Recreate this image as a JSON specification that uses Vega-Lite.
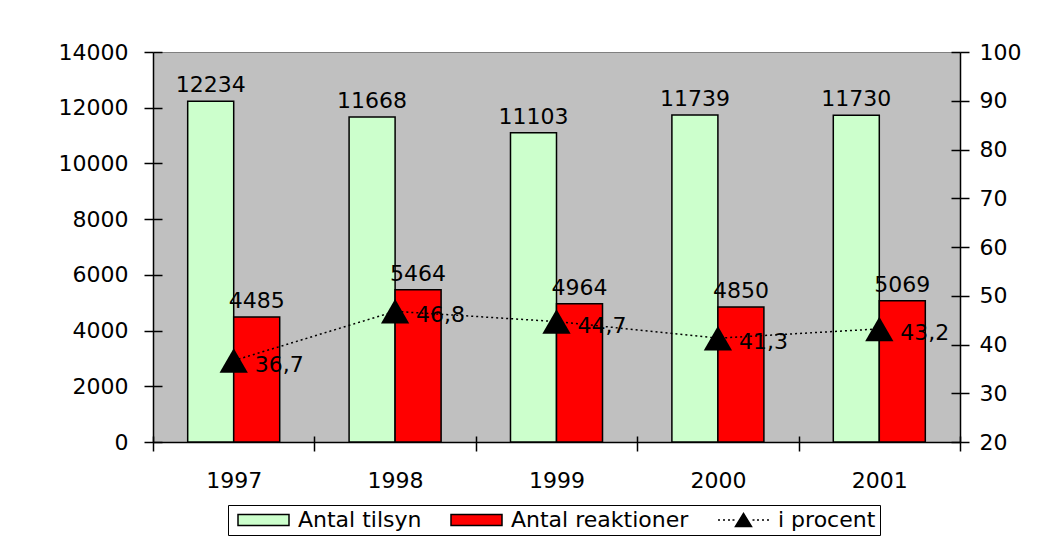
{
  "$schema": "https://vega.github.io/schema/vega-lite/v6.json",
  "width": 807,
  "height": 390,
  "autosize": "none",
  "padding": {"left": 153, "top": 52, "right": 97, "bottom": 106},
  "background": "white",
  "config": {
    "font": "DejaVu Sans",
    "view": {"fill": "#C0C0C0", "stroke": "#808080", "strokeWidth": 1},
    "axis": {"grid": false, "title": null, "labelFont": "DejaVu Sans", "labelFontSize": 22, "labelColor": "black", "tickColor": "black", "domainColor": "black", "tickWidth": 1.5, "domainWidth": 1.5, "tickSize": 9, "labelFlush": false, "labelOverlap": false}
  },
  "datasets": {
    "bars": [
      {"year": "1997", "series": "Antal tilsyn", "value": 12234},
      {"year": "1997", "series": "Antal reaktioner", "value": 4485},
      {"year": "1998", "series": "Antal tilsyn", "value": 11668},
      {"year": "1998", "series": "Antal reaktioner", "value": 5464},
      {"year": "1999", "series": "Antal tilsyn", "value": 11103},
      {"year": "1999", "series": "Antal reaktioner", "value": 4964},
      {"year": "2000", "series": "Antal tilsyn", "value": 11739},
      {"year": "2000", "series": "Antal reaktioner", "value": 4850},
      {"year": "2001", "series": "Antal tilsyn", "value": 11730},
      {"year": "2001", "series": "Antal reaktioner", "value": 5069}
    ],
    "pct": [
      {"year": "1997", "procent": 36.7, "label": "36,7"},
      {"year": "1998", "procent": 46.8, "label": "46,8"},
      {"year": "1999", "procent": 44.7, "label": "44,7"},
      {"year": "2000", "procent": 41.3, "label": "41,3"},
      {"year": "2001", "procent": 43.2, "label": "43,2"}
    ]
  },
  "layer": [
    {
      "data": {"name": "bars"},
      "encoding": {
        "x": {
          "field": "year", "type": "nominal", "sort": null,
          "scale": {"paddingInner": 0, "paddingOuter": 0},
          "axis": {"orient": "bottom", "labelAngle": 0, "tickBand": "extent", "labelPadding": 19}
        },
        "xOffset": {"field": "series", "type": "nominal", "sort": ["Antal tilsyn", "Antal reaktioner"], "scale": {"paddingInner": 0, "paddingOuter": 0.754}},
        "y": {
          "field": "value", "type": "quantitative",
          "scale": {"domain": [0, 14000], "nice": false},
          "axis": {"orient": "left", "format": "d", "values": [0, 2000, 4000, 6000, 8000, 10000, 12000, 14000], "labelPadding": 16}
        }
      },
      "layer": [
        {
          "mark": {"type": "bar", "stroke": "black", "strokeWidth": 1.5},
          "encoding": {
            "color": {
              "field": "series", "type": "nominal",
              "scale": {"domain": ["Antal tilsyn", "Antal reaktioner", "i procent"], "range": ["#CCFFCC", "#FF0000", "#000000"]},
              "legend": {
                "title": null, "orient": "none", "legendX": 75, "legendY": 453, "direction": "horizontal", "columns": 3,
                "labelFont": "DejaVu Sans", "labelFontSize": 22, "labelColor": "black", "labelLimit": 500,
                "symbolSize": 400, "symbolStrokeColor": "black", "symbolOpacity": 1,
                "strokeColor": "black", "padding": 4, "columnPadding": 23, "labelOffset": 44,
                "encode": {"symbols": {"update": {"shape": {"signal": "datum.value === 'i procent' ? 'M-0.5,0H-0.3M0,0H0.2M0.5,0H0.7M0.95,0H1.15M2.95,0H3.15M3.4,0H3.6M3.9,0H4.1M4.4,0H4.6M1.25,0.65L2.05,-0.65L2.85,0.65Z' : 'M-0.5,-0.55H4.6V0.55H-0.5Z'"}}}}
              }
            }
          }
        },
        {
          "mark": {"type": "text", "baseline": "alphabetic", "dy": -9, "font": "DejaVu Sans", "fontSize": 22, "color": "black"},
          "encoding": {"text": {"field": "value", "type": "quantitative", "format": "d"}}
        }
      ]
    },
    {
      "data": {"name": "pct"},
      "encoding": {
        "x": {"field": "year", "type": "nominal", "sort": null, "scale": {"paddingInner": 0, "paddingOuter": 0}, "axis": null},
        "y": {
          "field": "procent", "type": "quantitative",
          "scale": {"domain": [20, 100], "nice": false},
          "axis": {"orient": "right", "values": [20, 30, 40, 50, 60, 70, 80, 90, 100], "labelPadding": 10}
        }
      },
      "layer": [
        {
          "mark": {"type": "text", "align": "left", "baseline": "middle", "dx": 21, "dy": 4, "font": "DejaVu Sans", "fontSize": 22, "color": "black"},
          "encoding": {"text": {"field": "label", "type": "nominal"}}
        },
        {
          "mark": {"type": "line", "color": "black", "strokeWidth": 1.5, "strokeDash": [2, 3]},
          "encoding": {}
        },
        {
          "mark": {"type": "point", "shape": "triangle-up", "size": 800, "filled": true, "color": "black", "opacity": 1},
          "encoding": {}
        }
      ]
    },
    {
      "data": {"name": "bars"},
      "mark": {"type": "point", "opacity": 0},
      "encoding": {
        "x": {"field": "year", "type": "nominal", "sort": null, "scale": {"paddingInner": 0, "paddingOuter": 0},
          "axis": {"orient": "bottom", "tickBand": "extent", "tickSize": -6, "labels": false, "domain": false}},
        "y": {"field": "value", "type": "quantitative", "scale": {"domain": [0, 14000], "nice": false},
          "axis": {"orient": "left", "values": [0, 2000, 4000, 6000, 8000, 10000, 12000, 14000], "tickSize": -9, "labels": false, "domain": false}}
      }
    },
    {
      "data": {"name": "pct"},
      "mark": {"type": "point", "opacity": 0},
      "encoding": {
        "x": {"field": "year", "type": "nominal", "sort": null, "scale": {"paddingInner": 0, "paddingOuter": 0}, "axis": null},
        "y": {"field": "procent", "type": "quantitative", "scale": {"domain": [20, 100], "nice": false},
          "axis": {"orient": "right", "values": [20, 30, 40, 50, 60, 70, 80, 90, 100], "tickSize": -9, "labels": false, "domain": false}}
      }
    }
  ],
  "resolve": {"scale": {"x": "independent", "y": "independent"}}
}
